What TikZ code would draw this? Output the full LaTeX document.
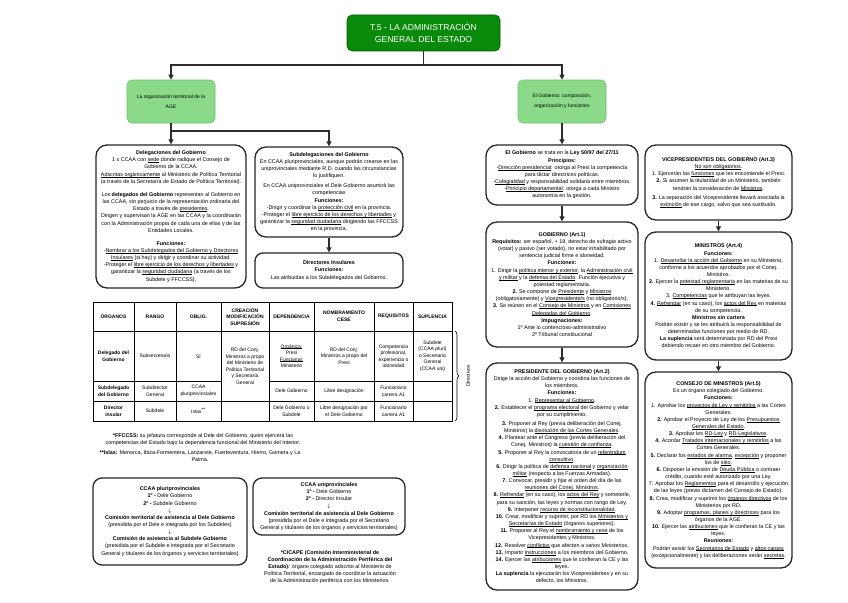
\documentclass[tikz,border=0pt]{standalone}
\usepackage{fontspec}
\setmainfont{Liberation Sans}
\usetikzlibrary{arrows.meta,decorations.pathreplacing}
\definecolor{dkgreen}{RGB}{10,138,10}
\definecolor{dkgreenb}{RGB}{0,95,0}
\definecolor{ltgreen}{RGB}{138,218,138}
\definecolor{ltgreenb}{RGB}{110,190,110}
\definecolor{linegray}{RGB}{45,45,45}
\newsavebox{\uubox}
\newcommand{\uu}[1]{\sbox{\uubox}{#1}\rlap{\rule[-0.8pt]{\wd\uubox}{0.4pt}}\usebox{\uubox}}
\newcommand{\bodyfont}{\fontsize{5.4}{7.15}\selectfont}
\newcommand{\tabfont}{\fontsize{5}{6.5}\selectfont}
\newcommand{\notefont}{\fontsize{5.4}{7}\selectfont}
\newcommand{\greenfont}{\fontsize{5}{10}\selectfont}
\newcommand{\titlefont}{\fontsize{8.6}{12}\selectfont}
\begin{document}
\begin{tikzpicture}[x=1pt,y=-1pt,
  wbox/.style={draw=black!85, line width=1.3pt, rounded corners=11pt, fill=white, align=center, inner xsep=0pt, inner ysep=2pt, font=\bodyfont},
  gbox/.style={draw=ltgreenb, line width=0.6pt, fill=ltgreen, rounded corners=5pt, align=center, font=\greenfont},
  tbox/.style={draw=dkgreenb, line width=0.6pt, fill=dkgreen, rounded corners=5pt, align=center, text=white, font=\titlefont},
  conn/.style={draw=linegray, line width=1.1pt},
  arr/.style={conn, -{Triangle[length=5pt,width=5pt]}},
  cell/.style={align=center, font=\tabfont, inner sep=0pt},
  tline/.style={draw=black, line width=0.7pt},
  note/.style={align=center, font=\notefont, inner sep=0pt}
]
\useasboundingbox[fill=white] (0,0) rectangle (848,602);

% ---------- top ----------
\node[tbox, minimum width=153pt, minimum height=36pt] (title) at (423.5,33)
  {T.5 - LA ADMINISTRACIÓN\\GENERAL DEL ESTADO};
\node[gbox, minimum width=88pt, minimum height=43pt] (lg) at (171,101.5)
  {La organización territorial de la\\AGE};
\node[gbox, minimum width=88pt, minimum height=43pt] (rg) at (562,101.5)
  {El Gobierno: composición,\\organización y funciones};

% ---------- left column ----------
\node[wbox, minimum width=150pt, minimum height=143pt] (deleg) at (171,216.5) {%
\textbf{Delegaciones del Gobierno}\\
1 x CCAA con \uu{sede} donde radique el Consejo de\\
Gobierno de la CCAA.\\
\uu{Adscritas orgánicamente} al Ministerio de Política Territorial\\
(a través de la Secretaría de Estado de Política Territorial).\\[6pt]
Los \textbf{delegados del Gobierno} representan al Gobierno en\\
las CCAA, sin perjuicio de la representación ordinaria del\\
Estado a través de \uu{presidentes}.\\
Dirigen y supervisan la AGE en las CCAA y la coordinarán\\
con la Administración propia de cada una de ellas y de las\\
Entidades Locales.\\[6pt]
\textbf{Funciones:}\\
-\uu{Nombrar a los Subdelegados del Gobierno y Directores}\\
\uu{Insulares} (si hay) y dirigir y coordinar su actividad.\\
-Proteger el \uu{libre ejercicio de los derechos y libertades} y\\
garantizar la \uu{seguridad ciudadana} (a través de los\\
Subdele y FFCCSS).};

\node[wbox, minimum width=148pt, minimum height=90pt] (subdel) at (329,192) {%
\textbf{Subdelegaciones del Gobierno}\\
En CCAA pluriprovinciales, aunque podrán crearse en las\\
uniprovinciales mediante R.D. cuando las circunstancias\\
lo justifiquen.\\[3pt]
En CCAA uniprovinciales el Dele Gobierno asumirá las\\
competencias\\
\textbf{Funciones:}\\
-Dirigir y coordinar la \uu{protección civil} en la provincia.\\
-Proteger el \uu{libre ejercicio de los derechos y libertades} y\\
garantizar la \uu{seguridad ciudadana} dirigiendo las FFCCSS\\
en la provincia.};

\node[wbox, rounded corners=8pt, minimum width=148pt, minimum height=35pt] (dirins) at (329,270.5) {%
\textbf{Directores Insulares}\\
\textbf{Funciones:}\\
Las atribuidas a los Subdelegados del Gobierno.};

% ---------- table ----------
\draw[tline] (93,302) rectangle (452,421);
\foreach \xx in {134,176,221,269,314,374,413} \draw[tline] (\xx,302) -- (\xx,421);
\draw[tline] (93,331) -- (452,331);
\draw[tline] (93,381) -- (221,381);
\draw[tline] (269,381) -- (452,381);
\draw[tline] (93,401) -- (452,401);

\node[cell] (h1) at (113.5,316.5) {\textbf{ÓRGANOS}};
\node[cell] (h2) at (155,316.5) {\textbf{RANGO}};
\node[cell] (h3) at (198.5,316.5) {\textbf{OBLIG.}};
\node[cell] (h4) at (245,316.5) {\textbf{CREACIÓN}\\\textbf{MODIFICACIÓN}\\\textbf{SUPRESIÓN}};
\node[cell] (h5) at (291.5,316.5) {\textbf{DEPENDENCIA}};
\node[cell] (h6) at (344,316.5) {\textbf{NOMBRAMIENTO}\\\textbf{CESE}};
\node[cell] (h7) at (393.5,316.5) {\textbf{REQUISITOS}};
\node[cell] (h8) at (432.5,316.5) {\textbf{SUPLENCIA}};

\node[cell] (a1) at (113.5,356) {\textbf{Delegado del}\\\textbf{Gobierno}};
\node[cell] (a2) at (155,356) {Subsecretario};
\node[cell] (a3) at (198.5,356) {SÍ};
\node[cell] (a4) at (245,366) {RD del Conj.\\Ministros a propo\\del Ministerio de\\Política Territorial\\y Secretaría\\General};
\node[cell] (a5) at (291.5,356) {\uu{Orgánica:}\\Presi\\\uu{Funcional:}\\Ministerio};
\node[cell] (a6) at (344,356) {RD del Conj.\\Ministros a propo del\\Presi};
\node[cell] (a7) at (393.5,356) {Competencia\\profesional,\\experiencia o\\idoneidad};
\node[cell] (a8) at (432.5,356) {Subdele\\(CCAA pluri)\\o Secretario\\General\\(CCAA uni)};

\node[cell] (b1) at (113.5,391) {\textbf{Subdelegado}\\\textbf{del Gobierno}};
\node[cell] (b2) at (155,391) {Subdirector\\General};
\node[cell] (b3) at (198.5,391) {CCAA\\pluriprovinciales};
\node[cell] (b5) at (291.5,391) {Dele Gobierno};
\node[cell] (b6) at (344,391) {Libre designación};
\node[cell] (b7) at (393.5,391) {Funcionario\\carrera A1};

\node[cell] (c1) at (113.5,411) {\textbf{Director}\\\textbf{insular}};
\node[cell] (c2) at (155,411) {Subdele};
\node[cell] (c3) at (198.5,411) {Islas\textsuperscript{**}};
\node[cell] (c5) at (291.5,411) {Dele Gobierno o\\Subdele};
\node[cell] (c6) at (344,411) {Libre designación por\\el Dele Gobierno};
\node[cell] (c7) at (393.5,411) {Funcionario\\carrera A1};

\draw[line width=0.6pt, decorate, decoration={brace, amplitude=4pt}] (455,331) -- (455,421);
\node[cell, rotate=90] (dirv) at (468,376) {Directivos};

% ---------- notes ----------
\node[note] (fn1) at (203,439.5) {\textbf{*FFCCSS:} su jefatura corresponde al Dele del Gobierno, quien ejercerá las\\
competencias del Estado bajo la dependencia funcional del Ministerio del Interior.};
\node[note] (fn2) at (200,456) {\textbf{**Islas:} Menorca, Ibiza-Formentera, Lanzarote, Fuerteventura, Hierro, Gomera y La\\Palma.};

\node[wbox, rounded corners=9pt, minimum width=154pt, minimum height=87pt] (pluri) at (170,521.5) {%
\textbf{CCAA pluriprovinciales}\\
\textbf{1º -} Dele Gobierno\\
\textbf{2º -} Subdele Gobierno\\
$\downarrow$\\
\textbf{Comisión territorial de asistencia al Dele Gobierno}\\
(presidida por el Dele e integrada por los Subdeles)\\
$\downarrow$\\
\textbf{Comisión de asistencia al Subdele Gobierno}\\
(presidida por el Subdele e integrada por el Secretario\\
General y titulares de los órganos y servicios territoriales)};

\node[wbox, rounded corners=9pt, minimum width=152pt, minimum height=57pt] (uni) at (329,506.5) {%
\textbf{CCAA uniprovinciales}\\
\textbf{1º -} Dele Gobierno\\
\textbf{2º -} Director Insular\\
$\downarrow$\\
\textbf{Comisión territorial de asistencia al Dele Gobierno}\\
(presidida por el Dele e integrada por el Secretario\\
General y titulares de los órganos y servicios territoriales)};

\node[note, font=\bodyfont] (cicape) at (330,567) {%
\textbf{*CICAPE (Comisión Interministerial de}\\
\textbf{Coordinación de la Administración Periférica del}\\
\textbf{Estado):} órgano colegiado adscrito al Ministerio de\\
Política Territorial, encargado de coordinar la actuación\\
de la Administración periférica con los Ministerios.};

% ---------- right column 1 ----------
\node[wbox, minimum width=152pt, minimum height=60pt] (ley) at (562,175) {%
\textbf{El Gobierno} se trata en la \textbf{Ley 50/97 del 27/11}\\
\textbf{Principios:}\\
-\uu{Dirección presidencial}: otorga al Presi la competencia\\
para dictar directrices políticas.\\
-\uu{Colegialidad} y responsabilidad solidaria entre miembros.\\
-\uu{Principio departamental}: otorga a cada Ministro\\
autonomía en la gestión.};

\node[wbox, minimum width=152pt, minimum height=125pt] (gob) at (562,284.5) {%
\textbf{GOBIERNO (Art.1)}\\
\textbf{Requisitos:} ser español, + 18, derecho de sufragio activo\\
(votar) y pasivo (ser votado), no estar inhabilitado por\\
sentencia judicial firme e idoneidad.\\
\textbf{Funciones:}\\
1. Dirigir la \uu{política interior y exterior}, la \uu{Administración civil}\\
\uu{y militar} y la \uu{defensa del Estado}. Función ejecutiva y\\
potestad reglamentaria.\\
\textbf{2.} Se compone de \uu{Presidente} y \uu{Ministros}\\
(obligatoriamente) y \uu{Vicepresidente/s} (no obligatorio/s).\\
\textbf{3.} Se reúnen en el \uu{Consejo de Ministros} y en \uu{Comisiones}\\
\uu{Delegadas del Gobierno}.\\
\textbf{Impugnaciones:}\\
1º Ante lo contencioso-administrativo\\
2º Tribunal constitucional};

\node[wbox, minimum width=152pt, minimum height=227pt] (pres) at (562,476.5) {%
\textbf{PRESIDENTE DEL GOBIERNO (Art.2)}\\
Dirige la acción del Gobierno y coordina las funciones de\\
los miembros.\\
\textbf{Funciones:}\\
1. \uu{Representar al Gobierno}.\\
\textbf{2.} Establecer el \uu{programa electoral} del Gobierno y velar\\
por su cumplimiento.\\[2pt]
\textbf{3.} Proponer al Rey (previa deliberación del Conej.\\
Ministros) la \uu{disolución de las Cortes Generales}.\\
\textbf{4.} Plantear ante el Congreso (previa deliberación del\\
Conej. Ministros) la \uu{cuestión de confianza}.\\
\textbf{5.} Proponer al Rey la convocatoria de un \uu{referéndum}\\
\uu{consultivo}.\\
\textbf{6.} Dirigir la política de \uu{defensa nacional} y \uu{organización}\\
\uu{militar} (respecto a las Fuerzas Armadas).\\
\textbf{7.} Convocar, presidir y fijar el orden del día de las\\
\uu{reuniones del Conej. Ministros}.\\
\textbf{8.} \uu{Refrendar} (en su caso), los \uu{actos del Rey} y someterle,\\
para su sanción, las leyes y normas con rango de Ley.\\
\textbf{9.} Interponer \uu{recurso de inconstitucionalidad}.\\
\textbf{10.} Crear, modificar y suprimir, por RD los \uu{Ministerios y}\\
\uu{Secretarías de Estado} (órganos superiores).\\
\textbf{11.} Proponer al Rey el \uu{nombramiento y cese} de los\\
Vicepresidentes y Ministros.\\
\textbf{12.} Resolver \uu{conflictos} que afecten a varios Ministerios.\\
\textbf{13.} Impartir \uu{instrucciones} a los miembros del Gobierno.\\
\textbf{14.} Ejercer las \uu{atribuciones} que le confieran la CE y las\\
leyes.\\
\textbf{La suplencia} la ejecutarán los Vicepresidentes y en su\\
defecto, los Ministros.};

% ---------- right column 2 ----------
\node[wbox, minimum width=147pt, minimum height=75pt] (vice) at (718.5,182.5) {%
\textbf{VICEPRESIDENTE/S DEL GOBIERNO (Art.3)}\\
\uu{No son obligatorios}.\\
1. Ejercerán las \uu{funciones} que les encomiende el Presi.\\
\textbf{2.} Si asumen la titularidad de un Ministerio, también\\
tendrán la consideración de \uu{Ministros}.\\[2pt]
\textbf{3.} La separación del Vicepresidente llevará asociada la\\
\uu{extinción} de ese cargo, salvo que sea sustituido.};

\node[wbox, minimum width=147pt, minimum height=128pt] (minis) at (718.5,296) {%
\textbf{MINISTROS (Art.4)}\\
\textbf{Funciones:}\\
1. \uu{Desarrollar la acción del Gobierno} en su Ministerio,\\
conforme a los acuerdos aprobados por el Conej.\\
Ministros.\\
\textbf{2.} Ejercer la \uu{potestad reglamentaria} en las materias de su\\
Ministerio.\\
3. \uu{Competencias} que le atribuyan las leyes.\\
\textbf{4.} \uu{Refrendar} (en su caso), los \uu{actos del Rey} en materias\\
de su competencia.\\
\textbf{Ministros sin cartera}\\
Podrán existir y se les atribuirá la responsabilidad de\\
determinadas funciones por medio de RD.\\
\textbf{La suplencia} será determinada por RD del Presi\\
debiendo recaer en otro miembro del Gobierno.};

\node[wbox, minimum width=147pt, minimum height=196pt] (cons) at (718.5,470) {%
\textbf{CONSEJO DE MINISTROS (Art.5)}\\
Es un órgano colegiado del Gobierno.\\
\textbf{Funciones:}\\
1. Aprobar los \uu{proyectos de Ley y remitirlos} a las Cortes\\
Generales.\\
\textbf{2.} Aprobar el Proyecto de Ley de los \uu{Presupuestos}\\
\uu{Generales del Estado}.\\
\textbf{3.} Aprobar los \uu{RD-Ley} y \uu{RD-Legislativos}.\\
\textbf{4.} Acordar \uu{Tratados internacionales y remitirlos} a las\\
Cortes Generales.\\
\textbf{5.} Declarar los \uu{estados de alarma}, \uu{excepción} y proponer\\
los de \uu{sitio}.\\
\textbf{6.} Disponer la emisión de \uu{Deuda Pública} o contraer\\
crédito, cuando esté autorizado por una Ley.\\
7. Aprobar los \uu{Reglamentos} para el desarrollo y ejecución\\
de las leyes (previo dictamen del Consejo de Estado).\\
\textbf{8.} Crea, modificar y suprimir los \uu{órganos directivos} de los\\
Ministerios por RD.\\
\textbf{9.} Adoptar \uu{programas, planes y directrices} para los\\
órganos de la AGE.\\
\textbf{10.} Ejercer las \uu{atribuciones} que le confieran la CE y las\\
leyes.\\
\textbf{Reuniones:}\\
Podrán asistir los \uu{Secretarios de Estado} y \uu{altos cargos}\\
(excepcionalmente) y las deliberaciones serán \uu{secretas}.};

% ---------- connectors ----------
\coordinate (tb) at (423.5,65);
\coordinate (lb) at (171,131);
\draw[conn] (title.south) -- (tb);
\draw[arr] (tb) -| (lg.north);
\draw[arr] (tb) -| (rg.north);
\draw[conn] (lg.south) -- (lb);
\draw[arr] (lb) -- (deleg.north);
\draw[arr] (lb) -| (subdel.north);
\draw[arr] (subdel.south) -- (dirins.north);
\draw[arr] (rg.south) -- (ley.north);
\draw[arr] (ley.south) -- (gob.north);
\draw[arr] (gob.south) -- (pres.north);
\draw[arr] (vice.south) -- (minis.north);
\draw[arr] (minis.south) -- (cons.north);
\end{tikzpicture}
\end{document}
